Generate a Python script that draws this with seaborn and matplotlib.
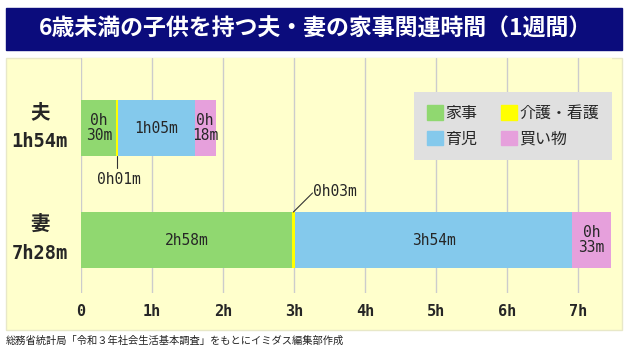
import matplotlib
matplotlib.use("Agg")
import matplotlib.pyplot as plt
import matplotlib.patches as mpatches
import numpy as np
import pandas as pd
import seaborn as sns

# data (minutes per day, average over a week)
people = ["夫", "妻"]
categories = ["家事", "介護・看護", "育児", "買い物"]
husband_min = [30, 1, 65, 18]
wife_min = [178, 3, 234, 33]
colors = ["#90d870", "#ffff00", "#84c9ec", "#e6a0dc"]
hour_ticks = [0, 1, 2, 3, 4, 5, 6, 7]
tick_labels = ["0", "1h", "2h", "3h", "4h", "5h", "6h", "7h"]

title = "6歳未満の子供を持つ夫・妻の家事関連時間（1週間）"
source = "総務省統計局「令和３年社会生活基本調査」をもとにイミダス編集部作成"

MONO = ["DejaVu Sans Mono", "Noto Sans CJK JP"]
CJK = ["Noto Sans CJK JP", "DejaVu Sans"]


def fmt(m, split=False):
    s = f"{m // 60}h" + ("\n" if split else "") + f"{m % 60:02d}m"
    return s


sns.set_style("white")
plt.rcParams["font.family"] = CJK

fig = plt.figure(figsize=(6.29, 3.54), dpi=100)
W, H = 629, 354

# title banner + panel
fig.add_artist(mpatches.Rectangle((6 / W, 1 - 50 / H), 616 / W, 42 / H,
                                  transform=fig.transFigure, color="#0b0c7c", zorder=0))
fig.text(316 / W, 1 - 29 / H, title, color="white", fontsize=16.5, fontweight="bold",
         ha="center", va="center", family=CJK)
fig.add_artist(mpatches.Rectangle((6 / W, 1 - 330 / H), 616 / W, 272 / H,
                                  transform=fig.transFigure, facecolor="#ffffcc",
                                  edgecolor="#e8e8c8", lw=1, zorder=0))
fig.text(6 / W, 1 - 341 / H, source, fontsize=7.4, color="#222222", ha="left",
         va="center", family=CJK)

ax = fig.add_axes([81 / W, 1 - 293 / H, 531 / W, 235 / H])
ax.set_facecolor("#ffffcc")

df = pd.DataFrame([husband_min, wife_min], columns=categories)
df["person"] = people
cum = df[categories].cumsum(axis=1) / 60.0

# stacked bars: draw cumulative totals from longest to shortest
for i in range(len(categories) - 1, -1, -1):
    sns.barplot(x=cum[categories[i]].values, y=people, orient="h", color=colors[i],
                saturation=1, width=0.5, linewidth=0, ax=ax, zorder=3)

ax.set_xlim(0, 7.48)
ax.set_ylim(1.473, -0.625)
ax.set_xticks(hour_ticks)
ax.set_xticklabels(tick_labels, fontsize=11, fontweight="bold", family=MONO)
ax.set_yticks([])
ax.set_xlabel("")
ax.set_ylabel("")
ax.tick_params(axis="x", length=0, pad=8)
ax.grid(axis="x", color="#cccccc", lw=1, zorder=0)
ax.set_axisbelow(True)
for s in ax.spines.values():
    s.set_visible(False)

# segment labels
rows = [husband_min, wife_min]
for r, mins in enumerate(rows):
    left = 0
    for i, m in enumerate(mins):
        h = m / 60
        c = left + h / 2
        if m >= 10:
            ax.text(c, r, fmt(m, split=(h < 0.6)), ha="center", va="center", fontsize=10.5,
                    family=MONO, linespacing=1.05, zorder=5)
        left += h
    total = sum(mins)
    ax.text(-0.58, r - 0.14, people[r], ha="center", va="center", fontsize=14,
            fontweight="bold", family=CJK, clip_on=False)
    ax.text(-0.58, r + 0.12, fmt(total), ha="center", va="center", fontsize=13.5,
            fontweight="bold", family=MONO, clip_on=False)

# small segments with leader lines
x1 = (husband_min[0] + husband_min[1] / 2) / 60
ax.plot([x1, x1], [0.25, 0.36], color="#333333", lw=0.8, zorder=5)
ax.text(x1 + 0.03, 0.46, fmt(husband_min[1]), ha="center", va="center", fontsize=10.5,
        family=MONO, zorder=5)
x2 = (wife_min[0] + wife_min[1] / 2) / 60
ax.plot([x2, x2 + 0.27], [0.75, 0.58], color="#333333", lw=0.8, zorder=5)
ax.text(x2 + 0.27, 0.57, fmt(wife_min[1]), ha="left", va="center", fontsize=10.5,
        family=MONO, zorder=5)

# legend
handles = [mpatches.Patch(color=c, label=l) for c, l in zip(colors, categories)]
order = [0, 2, 1, 3]
leg = ax.legend([handles[k] for k in order], [categories[k] for k in order], ncol=2,
                loc="upper right", bbox_to_anchor=(1.0, 0.855), borderaxespad=0,
                facecolor="#e0e0e0", edgecolor="none", fancybox=False, framealpha=1,
                handlelength=1.0, handleheight=1.0, handletextpad=0.15,
                columnspacing=1.5, borderpad=0.8, labelspacing=0.55,
                prop={"family": CJK, "size": 11.5})
leg.set_zorder(6)

fig.savefig("out.png", dpi=100)
